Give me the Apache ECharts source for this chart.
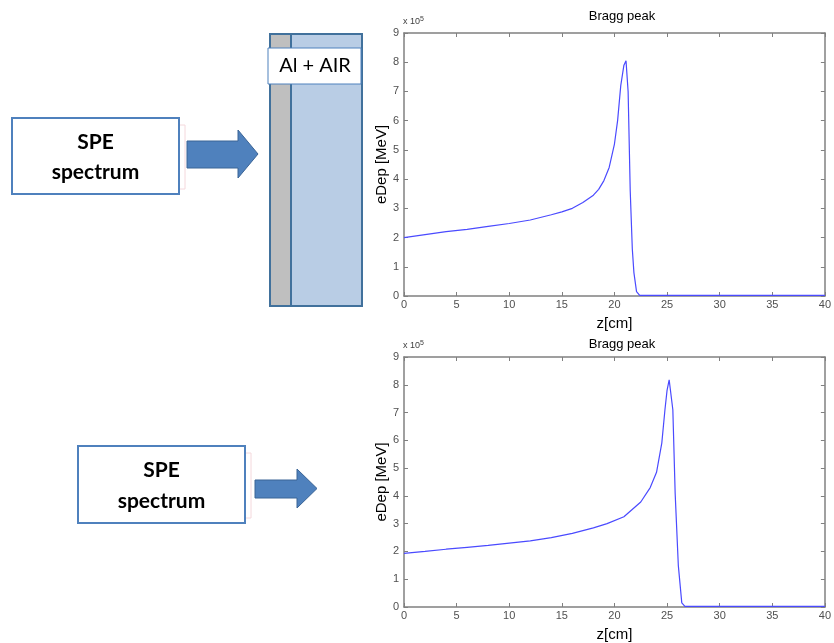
<!DOCTYPE html>
<html><head><meta charset="utf-8">
<script src="https://cdn.jsdelivr.net/npm/echarts/dist/echarts.min.js"></script>
<style>html,body{margin:0;padding:0;background:#fff}#c{width:834px;height:643px}</style>
</head><body><div id="c"></div>
<script>
// Top chart (Al + AIR) — eDep in units of 1e5 MeV
const zTop = [0,2,4,6,8,10,12,14,15,16,17,18,18.5,19,19.5,20,20.3,20.6,20.9,21.1,21.3,21.5,21.7,21.85,22.1,22.4,25,30,35,40];
const eTop = [2.0,2.1,2.2,2.28,2.38,2.48,2.6,2.78,2.88,3.0,3.2,3.45,3.65,3.95,4.4,5.2,6.0,7.2,7.9,8.05,7.0,3.6,1.6,0.8,0.15,0.02,0.02,0.02,0.02,0.02];
// Bottom chart
const zBot = [0,2,4,6,8,10,12,14,16,18,19.3,20.9,22.5,23.4,24,24.5,24.8,25.0,25.2,25.55,25.77,26.07,26.4,26.7,30,35,40];
const eBot = [1.93,2.0,2.08,2.15,2.22,2.3,2.38,2.5,2.65,2.85,3.0,3.25,3.78,4.3,4.85,5.9,7.1,7.8,8.18,7.1,4.1,1.5,0.15,0.02,0.02,0.02,0.02];
const chartTitle = 'Bragg peak';
const xName = 'z[cm]';
const yName = 'eDep [MeV]';

const axisCol = '#808080';
const lblStyle = {color:'#505050', fontSize:11, fontFamily:'Liberation Sans'};
function xAxes(gi){
  return [
    {type:'value', gridIndex:gi, min:0, max:40, interval:5, position:'bottom',
     axisLine:{onZero:false,lineStyle:{color:axisCol,width:1.5}}, axisTick:{inside:true,length:4,lineStyle:{color:axisCol}},
     axisLabel:Object.assign({margin:3}, lblStyle), splitLine:{show:false},
     name:xName, nameLocation:'middle', nameGap:20, nameMoveOverlap:false, nameTextStyle:{fontSize:15,color:'#000',fontFamily:'Liberation Sans'}},
    {type:'value', gridIndex:gi, min:0, max:40, interval:5, position:'top',
     axisLine:{onZero:false,lineStyle:{color:axisCol,width:1.5}}, axisTick:{inside:true,length:4,lineStyle:{color:axisCol}},
     axisLabel:{show:false}, splitLine:{show:false}}
  ];
}
function yAxes(gi){
  return [
    {type:'value', gridIndex:gi, min:0, max:9, interval:1, position:'left',
     axisLine:{show:true,onZero:false,lineStyle:{color:axisCol,width:1.5}}, axisTick:{show:true,inside:true,length:4,lineStyle:{color:axisCol}},
     axisLabel:Object.assign({margin:5}, lblStyle), splitLine:{show:false},
     name:yName, nameLocation:'middle', nameGap:15, nameMoveOverlap:false, nameRotate:90, nameTextStyle:{fontSize:15,color:'#000',fontFamily:'Liberation Sans'}},
    {type:'value', gridIndex:gi, min:0, max:9, interval:1, position:'right',
     axisLine:{show:true,onZero:false,lineStyle:{color:axisCol,width:1.5}}, axisTick:{show:true,inside:true,length:4,lineStyle:{color:axisCol}},
     axisLabel:{show:false}, splitLine:{show:false}}
  ];
}
const lineStyle = {color:'#4a4aff', width:1.2};
const arrowCol = '#4f81bd', arrowBorder = '#3a6496';
function arrow(x0,x1,xh,yb0,yb1,yh0,yh1){
  const ym=(yh0+yh1)/2;
  return {type:'polygon', shape:{points:[[x0,yb0],[xh,yb0],[xh,yh0],[x1,ym],[xh,yh1],[xh,yb1],[x0,yb1]]},
    style:{fill:arrowCol, stroke:arrowBorder, lineWidth:1}};
}
function speBox(x,y,w,h){
  return [
    {type:'rect', shape:{x:x+w,y:y+7,width:6,height:h-12}, style:{fill:'#fff',stroke:'#f4d8dc',lineWidth:1}},
    {type:'rect', shape:{x:x,y:y,width:w,height:h}, style:{fill:'#fff',stroke:'#4f81bd',lineWidth:2}},
    {type:'text', x:x+w/2, y:y+h*0.32, style:{text:'SPE', fill:'#000', font:'bold 21px Lato', align:'center', verticalAlign:'middle'}},
    {type:'text', x:x+w/2, y:y+h*0.72, style:{text:'spectrum', fill:'#000', font:'bold 21px Lato', align:'center', verticalAlign:'middle'}}
  ];
}
const expRich = {a:{fontSize:9,fill:'#404040',fontFamily:'Liberation Sans'},s:{fontSize:7,fill:'#404040',fontFamily:'Liberation Sans',verticalAlign:'top',padding:[0,0,5,0]}};
const chart = echarts.init(document.getElementById('c'));
chart.setOption({
  animation:false,
  backgroundColor:'#fff',
  title:[
    {text:chartTitle, left:617, top:5, textAlign:'center', textStyle:{fontSize:13,fontWeight:'normal',color:'#000',fontFamily:'Liberation Sans'}},
    {text:chartTitle, left:617, top:333, textAlign:'center', textStyle:{fontSize:13,fontWeight:'normal',color:'#000',fontFamily:'Liberation Sans'}}
  ],
  grid:[
    {left:404, right:4, top:33, height:263},
    {left:404, right:4, top:357, height:252}
  ],
  xAxis:[...xAxes(0), ...xAxes(1)],
  yAxis:[...yAxes(0), ...yAxes(1)],
  series:[
    {type:'line', xAxisIndex:0, yAxisIndex:0, data:zTop.map((z,i)=>[z,eTop[i]]), showSymbol:false, lineStyle:lineStyle, silent:true},
    {type:'line', xAxisIndex:2, yAxisIndex:2, data:zBot.map((z,i)=>[z,eBot[i]]), showSymbol:false, lineStyle:lineStyle, silent:true}
  ],
  graphic:[
    {type:'text', x:403, y:16, style:{rich:expRich, text:'{a|x 10}{s|5}'}},
    {type:'text', x:403, y:340, style:{rich:expRich, text:'{a|x 10}{s|5}'}},
    // slab
    {type:'rect', shape:{x:291,y:34,width:71,height:272}, style:{fill:'#b9cde5',stroke:'#41719c',lineWidth:2}},
    {type:'rect', shape:{x:270,y:34,width:21,height:272}, style:{fill:'#bfbfbf',stroke:'#41719c',lineWidth:2}},
    {type:'rect', shape:{x:268,y:48,width:93,height:36}, style:{fill:'#fff',stroke:'#4f81bd',lineWidth:1}},
    {type:'text', x:315, y:66, style:{text:'Al + AIR', fill:'#000', font:'20px Lato', align:'center', verticalAlign:'middle'}},
    ...speBox(12,118,167,76),
    arrow(187,258,238,141,168,130,178),
    ...speBox(78,446,167,77),
    arrow(255,317,297,480,498,469,508)
  ]
});
</script></body></html>
